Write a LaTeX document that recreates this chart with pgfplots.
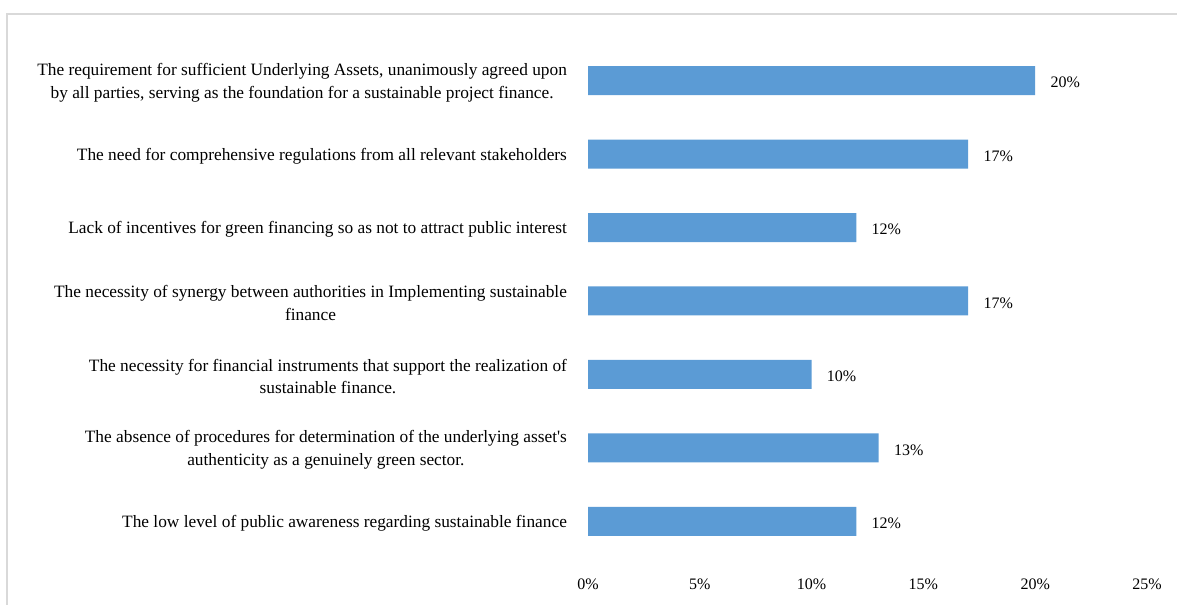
\documentclass[border=0pt]{standalone}
\usepackage{pgfplots}
\pgfplotsset{compat=1.18}
\usepackage{fontspec}
\setmainfont{Liberation Serif}
\definecolor{barblue}{HTML}{5B9BD5}
\definecolor{framegray}{HTML}{D9D9D9}
\begin{document}
\begin{tikzpicture}
\path[use as bounding box] (0pt,0pt) rectangle (882.75pt,453.75pt);
\draw[framegray,line width=1.5pt] (4.9pt,0pt) -- (4.9pt,442.9pt) -- (882.75pt,442.9pt);
\begin{axis}[
  at={(441pt,35.25pt)}, anchor=south west,
  scale only axis,
  width=419.25pt, height=385.5pt,
  xbar, bar width=21.75pt,
  xmin=0, xmax=25,
  ymin=-0.5, ymax=6.5,
  axis line style={draw=none},
  tick style={draw=none},
  xtick={0,5,10,15,20,25},
  xticklabel={\pgfmathprintnumber{\tick}\%},
  xticklabel style={font=\fontsize{12}{14}\selectfont, yshift=-12pt},
  /pgf/number format/assume math mode=true,
  ytick={0,1,2,3,4,5,6},
  yticklabels={
    The low level of public awareness regarding sustainable finance,
    {The absence of procedures for determination of the underlying asset\textquotesingle s\\authenticity as a genuinely green sector.},
    {The necessity for financial instruments that support the realization of\\sustainable finance.},
    {The necessity of synergy between authorities in Implementing sustainable\\finance},
    Lack of incentives for green financing so as not to attract public interest,
    The need for comprehensive regulations from all relevant stakeholders,
    {The requirement for sufficient Underlying Assets, unanimously agreed upon\\by all parties, serving as the foundation for a sustainable project finance.}
  },
  yticklabel style={font=\fontsize{13}{17}\selectfont, align=center, xshift=-8pt, yshift=-1.5pt},
  nodes near coords={\pgfmathprintnumber{\pgfplotspointmeta}\%},
  nodes near coords style={font=\fontsize{12}{14}\selectfont, anchor=west, xshift=8pt, yshift=-1.5pt},
  point meta=x,
]
\addplot[fill=barblue, draw=none] coordinates {
  (12,0) (13,1) (10,2) (17,3) (12,4) (17,5) (20,6)
};
\end{axis}
\end{tikzpicture}
\end{document}
